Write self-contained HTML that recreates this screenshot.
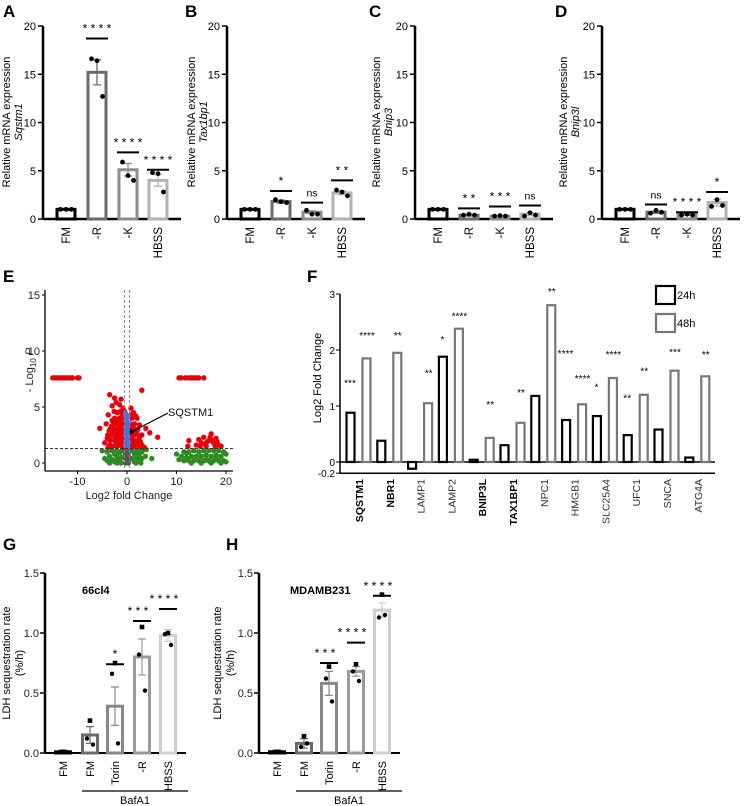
<!DOCTYPE html>
<html><head><meta charset="utf-8"><style>
html,body{margin:0;padding:0;background:#fff;}
svg{display:block;font-family:"Liberation Sans",Arial,sans-serif;}
</style></head><body>
<svg id="fig" width="744" height="806" viewBox="0 0 744 806" xmlns="http://www.w3.org/2000/svg">
<g font-weight="bold" font-size="17">
<text x="3" y="17">A</text>
<text x="185" y="17">B</text>
<text x="369" y="17">C</text>
<text x="555" y="17">D</text>
<text x="3" y="282">E</text>
<text x="307" y="282">F</text>
<text x="3" y="550">G</text>
<text x="226" y="550">H</text>
</g>
</svg>
<script>
// ---------- Panels A-D data ----------
const qpcrCats = ['FM','-R','-K','HBSS'];
const qpcrTicks = [0,5,10,15,20];
const sqstm1Vals = [1,15.2,5.1,4.0];
const sqstm1Err = [0.05,1.3,0.65,0.6];
const sqstm1Pts = [[1,1,1],[16.6,16.4,12.7],[5.9,4.5,4.0],[4.8,4.7,2.8]];
const sqstm1Sig = ['','* * * *','* * * *','* * * *'];
const sqstm1SigY = [0,18.7,6.9,5.1];
const tax1bp1Vals = [1,1.8,0.7,2.7];
const tax1bp1Err = [0.05,0.15,0.15,0.2];
const tax1bp1Pts = [[1,1,1],[2.0,1.8,1.7],[0.9,0.5,0.5],[3.0,2.8,2.4]];
const tax1bp1Sig = ['','*','ns','* *'];
const tax1bp1SigY = [0,2.9,1.7,4.0];
const bnip3Vals = [1,0.4,0.3,0.5];
const bnip3Err = [0.05,0.05,0.05,0.15];
const bnip3Pts = [[1,1,1],[0.4,0.5,0.4],[0.3,0.35,0.3],[0.3,0.65,0.4]];
const bnip3Sig = ['','* *','* * *','ns'];
const bnip3SigY = [0,1.1,1.3,1.4];
const bnip3lVals = [1,0.7,0.5,1.7];
const bnip3lErr = [0.05,0.1,0.1,0.35];
const bnip3lPts = [[1,1,1],[0.6,0.9,0.7],[0.4,0.5,0.4],[1.3,2.0,1.4]];
const bnip3lSig = ['','ns','* * * *','*'];
const bnip3lSigY = [0,1.5,0.7,2.8];

// ---------- Panel E data (volcano) ----------
const volcXTicks = [-10,0,10,20];
const volcYTicks = [0,5,10,15];
const volcPThresh = 1.3;
const volcFcThresh = 0.5;
const volcRedTop = [[-15,7.6],[-14.5,7.6],[-14,7.6],[-13.5,7.6],[-13,7.6],[-12.5,7.6],[-12,7.6],[-11.5,7.6],[-11,7.6],[-10,7.6],[-9.7,7.6],[10.5,7.6],[11,7.6],[11.8,7.6],[12.5,7.6],[13,7.6],[13.5,7.6],[14,7.6],[14.5,7.6],[15.5,7.6]];
const volcRed = [[-4.2,3.5],[-3.8,4.3],[-3.5,6.1],[-3,5.1],[-2.5,5.8],[-2.2,5.4],[-1.5,5.2],[-1.2,5.7],[-0.8,4.9],[0.8,4.9],[1.3,4.5],[2,4],[3,6.5],[2.5,3.4],[3.8,3.1],[4.6,2.7],[6.2,2.3],[-5.5,3.1],[-4,2.2],[-3.5,1.6],[-3,2.8],[-3,3.8],[-2.5,2],[-2.5,3],[-2.5,4],[-2,1.5],[-2,2.5],[-2,3.5],[-2,4.5],[-1.5,2],[-1.5,3],[-1.5,4],[-1,1.6],[-1,2.5],[-1,3.4],[-1,4.4],[-0.7,2],[-0.7,3],[-0.7,4],[0.7,1.6],[0.7,2.5],[0.7,3.5],[1,2],[1,3],[1,4],[1.5,1.5],[1.5,2.5],[1.5,3.5],[2,1.7],[2,2.6],[2.5,1.5],[2.5,2.3],[3,1.6],[3,2.5],[-3.8,1.4],[-3.2,2.4],[-2.8,3.4],[-1.8,2.8],[-1.2,3.8],[1.2,3.2],[2.2,3.0],[1.8,4.2],[-0.8,1.4],[0.8,1.4],[3.5,1.4],[-4.5,1.8],[-3.3,3.1],[-2.2,1.8],[-1.3,2.3],[-2.7,2.6],[1.3,1.8],[2.7,1.9],[-3.6,2.9],[-1.7,3.3],[-3.4,2.0],[-2.9,1.5],[-2.3,2.2],[-1.9,2.0],[-1.6,1.6],[-1.1,2.0],[-0.9,2.9],[-0.6,3.6],[-0.6,2.4],[-0.6,1.6],[0.6,2.0],[0.6,3.0],[0.9,4.3],[1.1,2.4],[1.6,2.0],[1.7,3.0],[2.3,2.0],[2.8,1.4],[-2.4,3.6],[-2.1,3.0],[-1.4,3.6],[-1.3,4.6],[-3.1,3.3],[-3.9,2.5],[-2.6,4.6],[-1.8,3.9],[-0.9,3.8],[-0.5,4.6],[12.5,2.0],[12.3,1.5],[14,1.6],[14.5,2.1],[15,1.8],[15.5,2.3],[16,1.5],[16.5,2.0],[17,2.6],[17.5,1.8],[18,2.2],[18.5,1.6],[16.8,2.3],[15.8,1.7],[17.8,1.5],[14.8,1.5],[17.2,2.0],[18.2,1.9],[16.2,1.9],[19,1.5]];
const volcBlue = [[-0.3,4.4],[0.2,4.2],[-0.2,3.8],[0.3,3.6],[-0.3,3.2],[0,3.0],[0.3,2.8],[-0.3,2.5],[0.2,2.3],[-0.2,2.0],[0.3,1.8],[-0.3,1.6],[0.1,1.4],[-0.1,4.0],[0.1,3.4],[-0.1,2.6],[0.0,2.2],[0.1,1.7]];
const volcGreen = [[-5,1.1],[-4.5,0.4],[-4,1.0],[-4,0.2],[-3.5,0.6],[-3,1.1],[-3,0.3],[-2.5,0.8],[-2.5,0.1],[-2,1.1],[-2,0.5],[-1.5,0.9],[-1.5,0.2],[-1,1.1],[-1,0.5],[1,1.1],[1,0.4],[1.5,0.8],[1.5,0.1],[2,1.1],[2,0.5],[2.5,0.8],[2.5,0.2],[3,1.0],[3,0.4],[3.7,0.6],[3.9,1.2],[5,0.4],[10,0.8],[10.5,0.3],[11,0.6],[11.5,0.2],[11.5,1.0],[12,0.5],[12.5,1.0],[12.5,0.2],[13,0.6],[13.5,1.1],[13.5,0.2],[14,0.6],[14.5,1.0],[14.5,0.2],[15,0.6],[15.5,1.1],[15.5,0.2],[16,0.7],[16.5,1.1],[16.5,0.2],[17,0.6],[17.5,1.1],[17.5,0.2],[18,0.7],[18.5,1.1],[18.5,0.2],[19,0.6],[19.5,1.0],[19.5,0.2],[20,0.8],[20,0.1],[13,0.0],[15,0.0],[17,0.0],[19,0.0],[-2,0.0],[-3.5,0.0],[1.8,0.0],[-1.2,0.0],[2.8,0.0],[16,0.3],[18,0.4],[12,0.9]];
const volcGray = [[-0.3,1.2],[0.3,1.0],[-0.3,0.8],[0.3,0.6],[-0.3,0.4],[0.3,0.2],[-0.3,0.0],[0.3,0.0],[0,0.5],[0,1.0],[0,0.1]];
const volcLabel = [1.0,2.8];

// ---------- Panel F data ----------
const fcGenes = ['SQSTM1','NBR1','LAMP1','LAMP2','BNIP3L','TAX1BP1','NPC1','HMGB1','SLC25A4','UFC1','SNCA','ATG4A'];
const fcBold = [true,true,false,false,true,true,false,false,false,false,false,false];
const fc24 = [0.88,0.38,-0.12,1.88,0.04,0.30,1.18,0.75,0.82,0.48,0.58,0.08];
const fc48 = [1.85,1.95,1.05,2.38,0.43,0.70,2.80,1.03,1.50,1.20,1.63,1.53];
const fc24Sig = ['***','','','*','','','','****','*','**','',''];
const fc24SigY = [1.42,0,0,2.2,0,0,0,1.95,1.35,1.15,0,0];
const fc48Sig = ['****','**','**','****','**','**','**','****','****','**','***','**'];
const fc48SigY = [2.27,2.27,1.6,2.62,1.04,1.25,3.05,1.5,1.93,1.63,1.97,1.93];
const fcTicks = [3,2,1,0,-0.2];

// ---------- Panels G-H data ----------
const ldhCats = ['FM','FM','Torin','-R','HBSS'];
const ldhTicks = [0,0.5,1.0,1.5];
const g66Vals = [0.01,0.15,0.39,0.80,0.98];
const g66Err = [0.005,0.07,0.16,0.15,0.05];
const g66Pts = [[0.01,0.01,0.01],[0.27,0.12,0.07],[0.75,0.66,0.08],[1.05,0.82,0.52],[1.00,0.99,0.90]];
const g66Sig = ['','','*','* * *','* * * *'];
const g66SigY = [0,0,0.74,1.1,1.2];
const mdaVals = [0.01,0.08,0.58,0.68,1.19];
const mdaErr = [0.005,0.04,0.10,0.04,0.06];
const mdaPts = [[0.01,0.01,0.01],[0.14,0.05,0.08],[0.72,0.62,0.43],[0.74,0.68,0.60],[1.32,1.13,1.15]];
const mdaSig = ['','','* * *','* * * *','* * * *'];
const mdaSigY = [0,0,0.75,0.92,1.31];

const NS = 'http://www.w3.org/2000/svg';
const svg = document.getElementById('fig');
function mk(tag, parent, attrs) {
  const e = document.createElementNS(NS, tag);
  for (const k in attrs) e.setAttribute(k, attrs[k]);
  parent.appendChild(e);
  return e;
}

// ---------- A-D ----------
function qpcrPanel(id, ax, gene, vals, err, pts, sig, sigY, labX) {
  const y = v => 219 - v * 9.65;
  const offs = [23, 54, 85, 115];
  const cols = ['#000', '#6b6b6b', '#8c8c8c', '#b3b3b3'];
  const g = mk('g', svg, {});
  
  
  const yl = mk('line', g, {x1: ax, y1: y(20), x2: ax, y2: y(0), stroke: '#000', 'stroke-width': 2.5});
  
  
  const xl = mk('line', g, {x1: ax, y1: y(0), x2: ax + 138, y2: y(0), stroke: '#000', 'stroke-width': 2.5});
  
  
  qpcrTicks.forEach(t => {
    const tk = mk('line', g, {x1: ax - 5, y1: y(t), x2: ax, y2: y(t), stroke: '#000', 'stroke-width': 1.5});
    
    
    const tl = mk('text', g, {x: ax - 7, y: y(t) + 4, 'font-size': 11, 'text-anchor': 'end'});
    tl.textContent = t;
    
    
  });
  const lab = mk('text', g, {transform: `translate(${labX},122) rotate(-90)`, 'font-size': 11, 'text-anchor': 'middle'});
  lab.textContent = 'Relative mRNA expression';
  
  
  const lab2 = mk('text', g, {transform: `translate(${labX + 12},122) rotate(-90)`, 'font-size': 11, 'text-anchor': 'middle', 'font-style': 'italic'});
  lab2.textContent = gene;
  
  
  vals.forEach((v, i) => {
    const cx = ax + offs[i];
    const b = mk('rect', g, {x: cx - 9, y: y(v), width: 18, height: y(0) - y(v), fill: '#fff', stroke: cols[i], 'stroke-width': 3});
    
    
    const e = mk('path', g, {d: `M${cx},${y(v - err[i])}V${y(v + err[i])}M${cx - 4},${y(v + err[i])}H${cx + 4}M${cx - 4},${y(v - err[i])}H${cx + 4}`, stroke: cols[i], 'stroke-width': 1.3, fill: 'none'});
    
    
    pts[i].forEach((p, j) => {
      const c = mk('circle', g, {cx: cx + (j - 1) * 5.5, cy: y(p), r: 2.4, fill: '#000'});
      
      
    });
    const tl = mk('text', g, {transform: `translate(${cx + 4},227) rotate(-90)`, 'font-size': 11.5, 'text-anchor': 'end'});
    tl.textContent = qpcrCats[i];
    
    
    if (sig[i]) {
      const sl = mk('line', g, {x1: cx - 11, y1: y(sigY[i]), x2: cx + 11, y2: y(sigY[i]), stroke: '#000', 'stroke-width': 2});
      
      
      const st = mk('text', g, {x: cx, y: y(sigY[i]) - 6, 'font-size': sig[i] === 'ns' ? 10.5 : 12, 'text-anchor': 'middle'});
      st.textContent = sig[i];
      
      
    }
  });
}
qpcrPanel('a', 43, 'Sqstm1', sqstm1Vals, sqstm1Err, sqstm1Pts, sqstm1Sig, sqstm1SigY, 10);
qpcrPanel('b', 227, 'Tax1bp1', tax1bp1Vals, tax1bp1Err, tax1bp1Pts, tax1bp1Sig, tax1bp1SigY, 195);
qpcrPanel('c', 415, 'Bnip3', bnip3Vals, bnip3Err, bnip3Pts, bnip3Sig, bnip3SigY, 380);
qpcrPanel('d', 602, 'Bnip3l', bnip3lVals, bnip3lErr, bnip3lPts, bnip3lSig, bnip3lSigY, 567);

// ---------- E ----------
(function () {
  const xv = v => 127 + v * 4.95;
  const yv = v => 463 - v * 11.2;
  const g = mk('g', svg, {});
  
  
  const draw = (arr, col, name) => arr.forEach(p => {
    const c = mk('circle', g, {cx: xv(p[0]), cy: yv(p[1]), r: 2.7, fill: col});
    
    
  });
  draw(volcGreen, '#2e8b22', 'point-ns');
  draw(volcGray, '#555', 'point-low');
  draw(volcRed, '#e8000b', 'point-significant');
  draw(volcRedTop, '#e8000b', 'point-significant');
  draw(volcBlue, '#4a6fe0', 'point-p-only');
  const th = mk('line', g, {x1: 45, y1: yv(volcPThresh), x2: 233, y2: yv(volcPThresh), stroke: '#333', 'stroke-dasharray': '3,2', 'stroke-width': 1});
  
  
  [-volcFcThresh, volcFcThresh].forEach(f => {
    const l = mk('line', g, {x1: xv(f), y1: 290, x2: xv(f), y2: 471, stroke: '#888', 'stroke-dasharray': '3,2', 'stroke-width': 1});
    
    
  });
  const ya = mk('line', g, {x1: 45, y1: 290, x2: 45, y2: 471, stroke: '#000', 'stroke-width': 1.3});
  
  
  const xa = mk('line', g, {x1: 45, y1: 471, x2: 233, y2: 471, stroke: '#000', 'stroke-width': 1.3});
  
  
  volcYTicks.forEach(t => {
    const tk = mk('line', g, {x1: 42, y1: yv(t), x2: 45, y2: yv(t), stroke: '#000'});
    
    
    const tl = mk('text', g, {x: 40, y: yv(t) + 4, 'font-size': 11, 'text-anchor': 'end', fill: '#222'});
    tl.textContent = t;
    
    
  });
  volcXTicks.forEach(t => {
    const tk = mk('line', g, {x1: xv(t), y1: 471, x2: xv(t), y2: 474, stroke: '#000'});
    
    
    const tl = mk('text', g, {x: xv(t), y: 485, 'font-size': 11, 'text-anchor': 'middle', fill: '#222'});
    tl.textContent = t;
    
    
  });
  const xt = mk('text', g, {x: 129, y: 499, 'font-size': 11, 'text-anchor': 'middle', fill: '#222'});
  xt.textContent = 'Log2 fold Change';
  
  
  const yt = mk('text', g, {transform: 'translate(33,370) rotate(-90)', 'font-size': 11, 'text-anchor': 'middle', fill: '#222'});
  yt.innerHTML = '- Log<tspan font-size="8" dy="3">10</tspan><tspan dy="-3" font-style="italic"> P</tspan>';
  
  
  const al = mk('line', g, {x1: xv(volcLabel[0]), y1: yv(volcLabel[1]), x2: 168, y2: 413, stroke: '#000', 'stroke-width': 1.2});
  
  
  const ad = mk('circle', g, {cx: xv(volcLabel[0]), cy: yv(volcLabel[1]), r: 2.5, fill: '#000'});
  
  
  const at = mk('text', g, {x: 168, y: 416, 'font-size': 11, fill: '#111'});
  at.textContent = 'SQSTM1';
  
  
})();

// ---------- F ----------
(function () {
  const yf = v => 462 - v * 56;
  const xf = i => 359 + i * 30.8;
  const g = mk('g', svg, {});
  
  
  const ya = mk('line', g, {x1: 340, y1: yf(3), x2: 340, y2: yf(-0.2), stroke: '#000', 'stroke-width': 1.5});
  
  
  const xa = mk('line', g, {x1: 340, y1: yf(0), x2: 715, y2: yf(0), stroke: '#000', 'stroke-width': 1.5});
  
  
  const xb = mk('line', g, {x1: 340, y1: yf(-0.2), x2: 715, y2: yf(-0.2), stroke: '#000', 'stroke-width': 1.5});
  
  
  fcTicks.forEach(t => {
    const tk = mk('line', g, {x1: 336, y1: yf(t), x2: 340, y2: yf(t), stroke: '#000'});
    
    
    const tl = mk('text', g, {x: 335, y: yf(t) + 4, 'font-size': 10, 'text-anchor': 'end'});
    tl.textContent = t;
    
    
  });
  const yt = mk('text', g, {transform: 'translate(321,378) rotate(-90)', 'font-size': 11, 'text-anchor': 'middle'});
  yt.textContent = 'Log2 Fold Change';
  
  
  fcGenes.forEach((gn, i) => {
    const c = xf(i);
    const v1 = fc24[i], v2 = fc48[i];
    const b1 = mk('rect', g, {x: c - 12.5, y: Math.min(yf(v1), yf(0)), width: 8, height: Math.abs(yf(v1) - yf(0)), fill: '#fff', stroke: '#000', 'stroke-width': 2.2});
    
    
    const b2 = mk('rect', g, {x: c + 3.5, y: Math.min(yf(v2), yf(0)), width: 8, height: Math.abs(yf(v2) - yf(0)), fill: '#fff', stroke: '#777', 'stroke-width': 2.2});
    
    
    if (fc24Sig[i]) {
      const s = mk('text', g, {x: c - 9, y: yf(fc24SigY[i]) + 4, 'font-size': 10, 'text-anchor': 'middle'});
      s.textContent = fc24Sig[i];
      
      
    }
    if (fc48Sig[i]) {
      const s = mk('text', g, {x: c + 8, y: yf(fc48SigY[i]) + 4, 'font-size': 10, 'text-anchor': 'middle'});
      s.textContent = fc48Sig[i];
      
      
    }
    const tl = mk('text', g, {transform: `translate(${c + 4},479) rotate(-90)`, 'font-size': 10.5, 'text-anchor': 'end', 'font-weight': fcBold[i] ? 'bold' : 'normal', fill: fcBold[i] ? '#000' : '#333'});
    tl.textContent = gn;
    
    
  });
  const l1 = mk('rect', g, {x: 656, y: 286, width: 19, height: 18, fill: '#fff', stroke: '#000', 'stroke-width': 2.2});
  
  
  const t1 = mk('text', g, {x: 677, y: 299, 'font-size': 11});
  t1.textContent = '24h';
  
  
  const l2 = mk('rect', g, {x: 656, y: 314, width: 19, height: 18, fill: '#fff', stroke: '#777', 'stroke-width': 2.2});
  
  
  const t2 = mk('text', g, {x: 677, y: 327, 'font-size': 11});
  t2.textContent = '48h';
  
  
})();

// ---------- G / H ----------
function ldhPanel(id, ax, title, titleX, vals, err, pts, sig, sigY, labX) {
  const y = v => 753 - v * 120;
  const offs = [18, 45, 70, 97, 123];
  const cols = ['#000', '#6b6b6b', '#888', '#9a9a9a', '#cfcfcf'];
  const g = mk('g', svg, {});
  
  
  const ya = mk('line', g, {x1: ax, y1: y(1.5), x2: ax, y2: y(0), stroke: '#000', 'stroke-width': 2.5});
  
  
  const xa = mk('line', g, {x1: ax, y1: y(0), x2: ax + 141, y2: y(0), stroke: '#000', 'stroke-width': 2});
  
  
  ldhTicks.forEach(t => {
    const tk = mk('line', g, {x1: ax - 5, y1: y(t), x2: ax, y2: y(t), stroke: '#000', 'stroke-width': 1.5});
    
    
    const tl = mk('text', g, {x: ax - 6, y: y(t) + 4, 'font-size': 11, 'text-anchor': 'end', fill: '#222'});
    tl.textContent = t.toFixed(1);
    
    
  });
  const yt = mk('text', g, {transform: `translate(${labX},${y(0.75)}) rotate(-90)`, 'font-size': 11, 'text-anchor': 'middle'});
  yt.textContent = 'LDH sequestration rate';
  
  
  const yt2 = mk('text', g, {transform: `translate(${labX + 13},${y(0.75)}) rotate(-90)`, 'font-size': 11, 'text-anchor': 'middle'});
  yt2.textContent = '(%/h)';
  
  
  const tt = mk('text', g, {x: titleX, y: 594, 'font-size': 11, 'font-weight': 'bold'});
  tt.textContent = title;
  
  
  vals.forEach((v, i) => {
    const cx = ax + offs[i];
    const b = mk('rect', g, {x: cx - 7.5, y: y(v), width: 15, height: y(0) - y(v), fill: '#fff', stroke: cols[i], 'stroke-width': 3});
    
    
    const e = mk('path', g, {d: `M${cx},${y(v - err[i])}V${y(v + err[i])}M${cx - 4},${y(v + err[i])}H${cx + 4}M${cx - 4},${y(v - err[i])}H${cx + 4}`, stroke: cols[i], 'stroke-width': 1.2, fill: 'none'});
    
    
    pts[i].forEach((p, j) => {
      const c = mk(j === 0 ? 'rect' : 'circle', g, j === 0 ? {x: cx - 2.3, y: y(p) - 2.3, width: 4.6, height: 4.6, fill: '#000'} : {cx: cx + (j === 1 ? -3 : 3), cy: y(p), r: 2.2, fill: '#000'});
      
      
    });
    const tl = mk('text', g, {transform: `translate(${cx + 4},761) rotate(-90)`, 'font-size': 11, 'text-anchor': 'end'});
    tl.textContent = ldhCats[i];
    
    
    if (sig[i]) {
      const sl = mk('line', g, {x1: cx - 9, y1: y(sigY[i]), x2: cx + 9, y2: y(sigY[i]), stroke: '#000', 'stroke-width': 2});
      
      
      const st = mk('text', g, {x: cx - (sig[i].length > 1 ? 4 : 0), y: y(sigY[i]) - 6, 'font-size': 12, 'text-anchor': 'middle'});
      st.textContent = sig[i];
      
      
    }
  });
  const bl = mk('line', g, {x1: ax + 37, y1: 791, x2: ax + 143, y2: 791, stroke: '#000', 'stroke-width': 1.2});
  
  
  const bt = mk('text', g, {x: ax + 90, y: 804, 'font-size': 11, 'text-anchor': 'middle'});
  bt.textContent = 'BafA1';
  
  
}
ldhPanel('g', 45, '66cl4', 82, g66Vals, g66Err, g66Pts, g66Sig, g66SigY, 10);
ldhPanel('h', 259, 'MDAMB231', 290, mdaVals, mdaErr, mdaPts, mdaSig, mdaSigY, 221);
</script>
</body></html>
